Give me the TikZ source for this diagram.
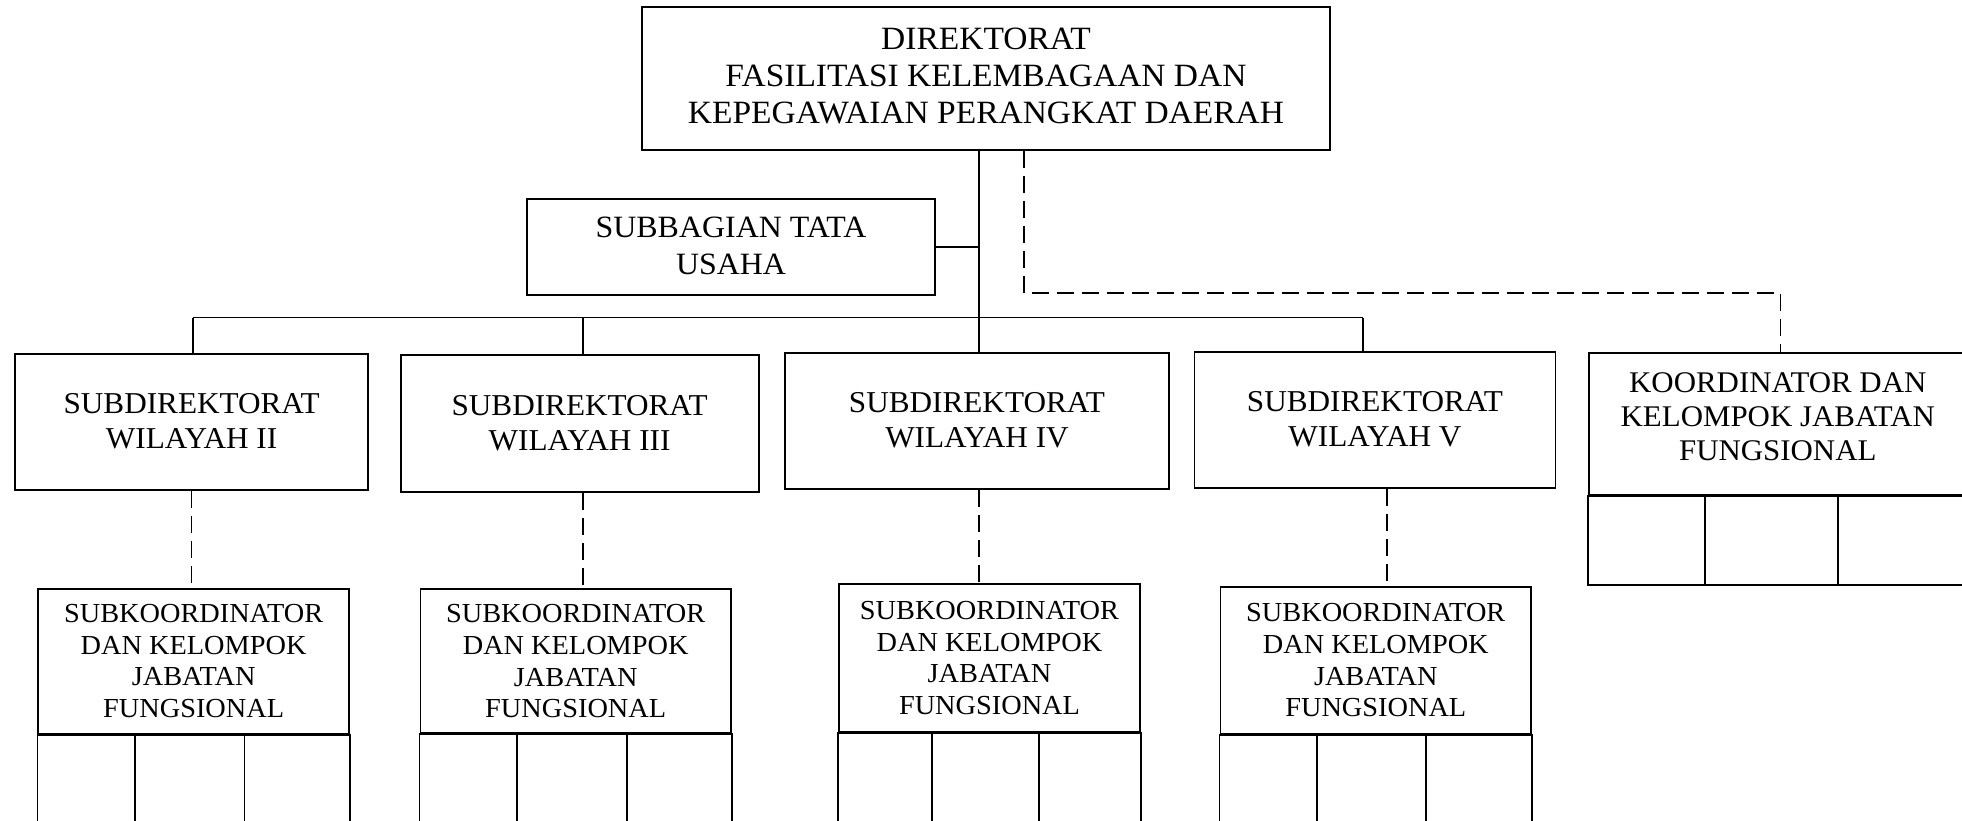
\documentclass[tikz,border=0pt]{standalone}
\usepackage{fontspec}
\setmainfont{Liberation Serif}[FakeStretch=1.03]
\begin{document}
\begin{tikzpicture}[x=1pt,y=-1pt,
  box/.style={draw,line width=1.8pt,inner sep=0pt,align=center},
  conn/.style={line width=1.5pt},
  dashline/.style={line width=1.5pt,dash pattern=on 17pt off 8pt},
  ftop/.style={font=\fontsize{32.5}{37}\selectfont},
  fsub/.style={font=\fontsize{30.3}{35}\selectfont},
  fsk/.style={font=\fontsize{27.5}{31.6}\selectfont},
  fko/.style={font=\fontsize{30}{34}\selectfont}]
\useasboundingbox (0,0) rectangle (1962,821);
\clip (0,0) rectangle (1962,821);
% top
\node[box,ftop,text depth=5pt,minimum width=688pt,minimum height=143pt] (top) at (986,78.5)
  {DIREKTORAT\\FASILITASI KELEMBAGAAN DAN\\KEPEGAWAIAN PERANGKAT DAERAH};
\node[box,font=\fontsize{31}{37}\selectfont,text depth=3pt,minimum width=408pt,minimum height=96pt] (sb) at (731,247)
  {SUBBAGIAN TATA\\USAHA};
% subdirektorat
\node[box,fsub,text depth=2pt,minimum width=352.6pt,minimum height=136pt] (d2) at (191.6,422) {SUBDIREKTORAT\\WILAYAH II};
\node[box,fsub,text depth=2pt,minimum width=358pt,minimum height=137pt] (d3) at (579.6,423.6) {SUBDIREKTORAT\\WILAYAH III};
\node[box,fsub,text depth=2pt,minimum width=384pt,minimum height=136pt] (d4) at (977,421.3) {SUBDIREKTORAT\\WILAYAH IV};
\node[box,fsub,text depth=2pt,minimum width=361pt,minimum height=135.7pt] (d5) at (1375,420) {SUBDIREKTORAT\\WILAYAH V};
% koordinator
\node[box,fko,text depth=15pt,minimum width=378.4pt,minimum height=142.3pt] (ko) at (1777.8,424.15)
  {KOORDINATOR DAN\\KELOMPOK JABATAN\\FUNGSIONAL};
\draw[line width=1.8pt] (ko.south west) rectangle ([yshift=-88.4pt]ko.south east);
\draw[line width=1.8pt] (1704.6,495.3) -- (1704.6,583.7) (1837.7,495.3) -- (1837.7,583.7);
% subkoordinator
\node[box,fsk,minimum width=310.7pt,minimum height=145pt] (sk2) at (193.65,661.2)
  {SUBKOORDINATOR\\DAN KELOMPOK\\JABATAN\\FUNGSIONAL};
\node[box,fsk,minimum width=310.6pt,minimum height=144pt] (sk3) at (575.7,661.3)
  {SUBKOORDINATOR\\DAN KELOMPOK\\JABATAN\\FUNGSIONAL};
\node[box,fsk,minimum width=301.6pt,minimum height=148.3pt] (sk4) at (989.5,658.15)
  {SUBKOORDINATOR\\DAN KELOMPOK\\JABATAN\\FUNGSIONAL};
\node[box,fsk,minimum width=310.8pt,minimum height=146.7pt] (sk5) at (1375.8,660.35)
  {SUBKOORDINATOR\\DAN KELOMPOK\\JABATAN\\FUNGSIONAL};
\foreach \n/\a/\b in {sk2/134.7/244.4, sk3/516.8/627, sk4/932.3/1039.3, sk5/1316.8/1426}{
  \draw[line width=1.8pt] (\n.south west) rectangle ([yshift=-110pt]\n.south east);
  \draw[line width=1.8pt] (\n.south -| \a,0) -- ++(0,110) (\n.south -| \b,0) -- ++(0,110);
}
% solid connectors
\coordinate (c) at (979,317.5);
\coordinate (bL) at (192.9,317.5);
\coordinate (b3) at (583.2,317.5);
\coordinate (bR) at (1362.8,317.5);
\draw[conn] (top.south -| c) -- (c |- d4.north);
\draw[conn] (sb.east) -- (sb.east -| c);
\draw[conn] (bL) -- (bR);
\draw[conn] (bL) -- (bL |- d2.north);
\draw[conn] (b3) -- (b3 |- d3.north);
\draw[conn] (bR) -- (bR |- d5.north);
% dashed connectors
\coordinate (dt) at (1024,293);
\coordinate (kd) at (1780.7,293);
\draw[dashline] (top.south -| dt) -- (dt) -- (kd) -- (kd |- ko.north);
\coordinate (v2) at (191.3,0);
\coordinate (v4) at (979,0);
\coordinate (v3) at (583,0);
\coordinate (v5) at (1387.2,0);
\draw[dashline] (d2.south -| v2) -- (sk2.north -| v2);
\draw[dashline] (d3.south -| v3) -- (sk3.north -| v3);
\draw[dashline] (d4.south -| v4) -- (sk4.north -| v4);
\draw[dashline] (d5.south -| v5) -- (sk5.north -| v5);
\end{tikzpicture}
\end{document}
